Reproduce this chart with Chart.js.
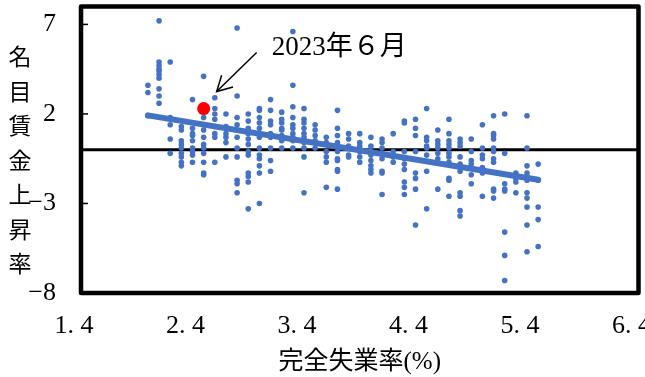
<!DOCTYPE html>
<html><head><meta charset="utf-8">
<style>html,body{margin:0;padding:0;background:#fff;}#wrap{width:645px;height:377px;}</style>
<script src="https://cdn.jsdelivr.net/npm/chart.js@4.4.1/dist/chart.umd.min.js"></script>
</head><body><div id="wrap"><canvas id="c" width="645" height="377"></canvas></div>
<script>
// 完全失業率 (%) columns
const unemploymentRates = [2.0,2.1,2.2,2.3,2.4,2.5,2.6,2.7,2.8,2.9,3.0,3.1,3.2,3.3,3.4,3.5,3.6,3.7,3.8,3.9,4.0,4.1,4.2,4.3,4.4,4.5,4.6,4.7,4.8,4.9,5.0,5.1,5.2,5.3,5.4,5.5];
// 名目賃金上昇率 (%) observed at each unemployment rate
const wageGrowth = [
  [3.6,3.2,1.9],
  [7.2,4.9,4.7,4.5,4.4,4.2,4.0,3.4,3.0,2.6],
  [4.9,1.8,1.4,0.6,-0.2],
  [1.3,1.1,0.5,0.3,0.1,-0.2,-0.4,-0.7,-0.9],
  [2.8,1.2,0.9,0.8,0.5,0.1,-0.1,-0.3,-0.7],
  [4.1,1.8,1.4,1.1,0.7,0.3,0.1,-0.2,-0.7,-1.3,-1.4],
  [2.9,2.3,2.0,1.7,1.3,0.9,0.7,-0.7],
  [2.0,1.3,0.9,0.7,0.4,-0.4],
  [6.8,3.0,1.8,1.4,1.1,0.7,0.1,-0.4,-1.7,-1.9,-2.4],
  [2.0,1.6,1.2,0.9,0.6,0.3,-0.1,-0.3,-1.3,-1.5,-1.8,-3.3],
  [2.3,2.2,1.8,1.5,1.2,0.9,0.7,0.1,-0.3,-0.5,-0.9,-1.3,-3.0],
  [2.8,2.2,1.6,1.4,0.9,0.7,0.1,-0.6,-1.2],
  [2.1,1.7,1.5,1.2,1.1,0.8,0.5,0.1],
  [6.6,3.6,2.4,1.8,1.4,1.2,0.9,0.7,0.5,0.1],
  [2.3,1.7,1.5,1.2,0.9,0.7,0.4,0.1,-0.4,-2.4],
  [1.4,1.1,0.8,0.5,0.1],
  [0.7,0.4,-0.1,-0.4,-0.7,-2.1],
  [2.2,1.2,0.8,0.4,-0.1,-0.5,-0.6,-1.1,-1.2,-2.2],
  [0.9,0.6,0.2,-0.3,-0.4],
  [0.9,0.4,0.2,-0.1,-0.4,-0.7],
  [0.7,0.2,-0.1,-0.3,-0.6,-0.9,-1.1,-1.3],
  [0.6,0.4,0.1,-0.2,-0.5,-1.2,-1.3,-2.5],
  [0.9,-0.1,-0.4,-0.7],
  [1.6,1.5,-0.1,-0.5,-0.8,-1.1,-1.8,-2.1,-2.5],
  [1.7,1.2,0.8,-0.1,-1.3,-1.6,-2.2,-4.2],
  [2.3,0.7,0.5,0.2,0.1,-0.3,-1.2,-3.3],
  [1.1,0.5,0.3,0.1,-0.2,-0.5,-2.2],
  [1.7,0.9,0.5,0.3,0.1,-0.2,-0.4,-0.7,-1.6,-1.7,-2.6],
  [0.6,0.4,0.2,-0.4,-0.8,-1.0,-1.2,-2.4,-2.6,-3.4,-3.7],
  [0.6,-0.1,-0.6,-0.8,-1.4,-1.9],
  [1.4,0.1,-0.3,-0.5,-1.0,-1.3,-2.6],
  [1.9,0.9,0.8,0.6,0.1,-0.1,-0.5,-0.7,-2.2,-2.3,-2.7],
  [2.0,-0.2,-1.9,-2.2,-2.3,-4.6,-5.9,-7.3],
  [-1.3,-1.6,-1.8,-2.4],
  [1.9,0.1,-0.9,-1.3,-1.5,-1.7,-2.4,-2.7,-3.2,-4.2,-5.7],
  [-0.8,-1.7,-3.2,-3.9,-5.4]
];
const highlightRate = 2.5;
const highlightWage = 2.3;
const highlightLabel = '2023年６月';
const trendRates = [2.0, 5.5];
const trendWages = [1.92, -1.68];
const xTickValues = [1.4, 2.4, 3.4, 4.4, 5.4, 6.4];
const xTickLabels = ['1. 4', '2. 4', '3. 4', '4. 4', '5. 4', '6. 4'];
const yTickValues = [-8, -3, 2, 7];
const yTickLabels = ['−8', '−3', '2', '7'];
const xTitle = '完全失業率(%)';
const yTitle = '名目賃金上昇率';

const BLUE = '#4472C4';
const SERIF = "'Liberation Serif','Noto Sans CJK JP'";

const points = [];
unemploymentRates.forEach((u, i) => wageGrowth[i].forEach(w => points.push({x: u, y: w})));

const decorPlugin = {
  id: 'decor',
  beforeDatasetsDraw(chart) {
    const {ctx, chartArea: a, scales: {x, y}} = chart;
    ctx.save();
    // zero line
    const y0 = y.getPixelForValue(0);
    ctx.strokeStyle = '#000';
    ctx.lineWidth = 3;
    ctx.beginPath(); ctx.moveTo(a.left, y0); ctx.lineTo(a.right, y0); ctx.stroke();
    // inner ticks
    ctx.lineWidth = 1.5;
    yTickValues.forEach(v => {
      const py = y.getPixelForValue(v);
      if (py > a.top + 3 && py < a.bottom - 3) {
        ctx.beginPath(); ctx.moveTo(a.left, py); ctx.lineTo(a.left + 7, py); ctx.stroke();
      }
    });
    ctx.restore();
  },
  afterDatasetsDraw(chart) {
    const {ctx, chartArea: a} = chart;
    ctx.save();
    ctx.strokeStyle = '#000';
    ctx.lineWidth = 4.5;
    ctx.lineJoin = 'round';
    ctx.strokeRect(a.left, a.top, a.right - a.left, a.bottom - a.top);
    ctx.restore();
  },
  afterDraw(chart) {
    const {ctx, chartArea: a, scales: {x, y}} = chart;
    ctx.save();
    // y title, stacked vertically
    ctx.fillStyle = '#000';
    ctx.font = "23px 'Noto Sans CJK JP'";
    ctx.textAlign = 'center';
    ctx.textBaseline = 'middle';
    Array.from(yTitle).forEach((ch, i) => ctx.fillText(ch, 20, a.top + 50 + i * 34.5));
    // annotation
    const px = x.getPixelForValue(highlightRate), py = y.getPixelForValue(highlightWage);
    const tip = {x: px + 13, y: py - 17}, tail = {x: px + 53, y: py - 56};
    ctx.strokeStyle = '#000';
    ctx.lineWidth = 1.5;
    ctx.beginPath(); ctx.moveTo(tail.x, tail.y); ctx.lineTo(tip.x, tip.y); ctx.stroke();
    const ang = Math.atan2(tail.y - tip.y, tail.x - tip.x);
    const L = 17, spread = 0.5;
    ctx.beginPath();
    ctx.moveTo(tip.x + L * Math.cos(ang - spread), tip.y + L * Math.sin(ang - spread));
    ctx.lineTo(tip.x, tip.y);
    ctx.lineTo(tip.x + L * Math.cos(ang + spread), tip.y + L * Math.sin(ang + spread));
    ctx.stroke();
    ctx.font = "27px " + SERIF;
    ctx.textAlign = 'left';
    ctx.fillText(highlightLabel, px + 68, py - 61);
    ctx.restore();
  }
};

new Chart(document.getElementById('c'), {
  type: 'scatter',
  data: {
    datasets: [
      {label: 'highlight', data: [{x: highlightRate, y: highlightWage}], pointRadius: 6.5, pointBackgroundColor: '#FF0000', pointBorderWidth: 0, order: 0},
      {label: 'trend', type: 'line', data: trendRates.map((r, i) => ({x: r, y: trendWages[i]})), borderColor: BLUE, borderWidth: 6, borderCapStyle: 'round', pointRadius: 0, fill: false, order: 1},
      {label: 'data', data: points, pointRadius: 2.8, pointBackgroundColor: BLUE, pointBorderWidth: 0, order: 2}
    ]
  },
  options: {
    responsive: false, animation: false, devicePixelRatio: 1,
    layout: {padding: {top: 5, right: 4, left: 0, bottom: 0}},
    plugins: {legend: {display: false}, tooltip: {enabled: false}},
    scales: {
      x: {
        type: 'linear', min: 1.4, max: 6.4,
        grid: {display: false, drawTicks: false}, border: {display: false},
        afterBuildTicks: s => { s.ticks = xTickValues.map(v => ({value: v})); },
        afterFit: s => { s.height = 84; s.paddingLeft = 0; s.paddingRight = 0; },
        ticks: {
          color: '#000', font: {family: SERIF, size: 26}, padding: 18, labelOffset: -7,
          autoSkip: false, maxRotation: 0, minRotation: 0,
          callback: v => { const i = xTickValues.findIndex(t => Math.abs(t - v) < 1e-6); return i >= 0 ? xTickLabels[i] : ''; }
        },
        title: {display: true, text: xTitle, color: '#000', font: {family: SERIF, size: 25}, padding: {top: 0, bottom: 0}}
      },
      y: {
        type: 'linear', min: -8, max: 8,
        grid: {display: false, drawTicks: false}, border: {display: false},
        afterBuildTicks: s => { s.ticks = yTickValues.map(v => ({value: v})); },
        afterFit: s => { s.width = 81; s.paddingTop = 0; s.paddingBottom = 0; },
        ticks: {
          color: '#000', font: {family: SERIF, size: 26}, padding: 25, autoSkip: false,
          callback: v => { const i = yTickValues.findIndex(t => Math.abs(t - v) < 1e-6); return i >= 0 ? yTickLabels[i] : ''; }
        }
      }
    }
  },
  plugins: [decorPlugin]
});
</script></body></html>
